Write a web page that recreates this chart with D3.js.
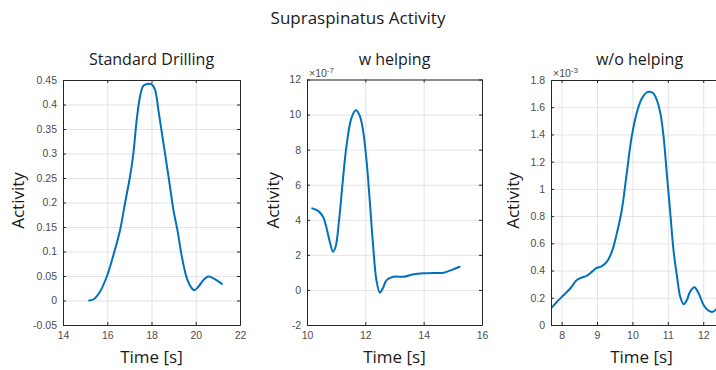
<!DOCTYPE html>
<html lang="en">
<head>
<meta charset="UTF-8">
<title>Supraspinatus Activity</title>
<script src="https://d3js.org/d3.v7.min.js"></script>
<style>
    body { margin: 0; background: #fff; }
    svg { display: block; }
    .tick text { font-family: 'Liberation Sans', Arial, sans-serif; font-size: 10.5px; fill: #4d4d4d; }
    .grid line { stroke: #e3e3e3; stroke-width: 1; }
    .grid path { stroke: none; }
    .lbl { font-family: 'Open Sans', 'Noto Sans', sans-serif; fill: #1a1a1a; }
</style>
</head>
<body>
<div id="chart"></div>
<script>
    // Standard Drilling
    const drillTime = [15.18, 15.37, 15.67, 15.98, 16.28, 16.58, 16.8, 17.03, 17.18, 17.33, 17.48, 17.63, 17.81, 18.01, 18.16, 18.31, 18.54, 18.77, 18.99, 19.17, 19.37, 19.6, 19.82, 19.94, 20.12, 20.35, 20.58, 20.8, 21.18];
    const drillAct  = [0, 0.002, 0.018, 0.049, 0.093, 0.144, 0.198, 0.253, 0.3, 0.368, 0.416, 0.438, 0.442, 0.441, 0.43, 0.389, 0.321, 0.253, 0.185, 0.144, 0.09, 0.045, 0.025, 0.021, 0.028, 0.042, 0.049, 0.045, 0.034];

    // w helping (x 1e-7)
    const helpTime = [10.18, 10.38, 10.55, 10.66, 10.78, 10.89, 10.98, 11.1, 11.23, 11.35, 11.52, 11.67, 11.8, 11.92, 12.04, 12.15, 12.27, 12.38, 12.5, 12.6, 12.73, 12.96, 13.31, 13.65, 13.99, 14.33, 14.66, 14.95, 15.23];
    const helpAct  = [4.65, 4.51, 4.17, 3.6, 2.75, 2.18, 2.46, 3.98, 6.26, 8.16, 9.78, 10.25, 9.97, 9.11, 7.4, 5.12, 2.46, 0.56, -0.16, 0.09, 0.56, 0.75, 0.75, 0.89, 0.95, 0.97, 0.97, 1.13, 1.32];

    // w/o helping (x 1e-3)
    const noHelpTime = [7.7, 7.87, 8.06, 8.25, 8.43, 8.58, 8.72, 8.86, 8.98, 9.14, 9.28, 9.42, 9.56, 9.7, 9.84, 9.98, 10.13, 10.27, 10.41, 10.5, 10.6, 10.69, 10.79, 10.88, 10.97, 11.07, 11.16, 11.26, 11.35, 11.45, 11.54, 11.63, 11.75, 11.87, 12.01, 12.15, 12.27, 12.4, 12.55];
    const noHelpAct  = [0.122, 0.171, 0.22, 0.27, 0.33, 0.35, 0.362, 0.392, 0.417, 0.433, 0.465, 0.539, 0.674, 0.845, 1.115, 1.384, 1.567, 1.666, 1.71, 1.714, 1.7, 1.653, 1.555, 1.384, 1.115, 0.82, 0.551, 0.355, 0.208, 0.152, 0.184, 0.245, 0.277, 0.233, 0.147, 0.105, 0.097, 0.125, 0.17];

    const drillXTicks = [14, 16, 18, 20, 22];
    const drillYTicks = [-0.05, 0, 0.05, 0.1, 0.15, 0.2, 0.25, 0.3, 0.35, 0.4, 0.45];
    const helpXTicks = [10, 12, 14, 16];
    const helpYTicks = [-2, 0, 2, 4, 6, 8, 10, 12];
    const noHelpXTicks = [8, 9, 10, 11, 12];
    const noHelpYTicks = [0, 0.2, 0.4, 0.6, 0.8, 1, 1.2, 1.4, 1.6, 1.8];

    const W = 716, H = 370;
    const svg = d3.select("#chart").append("svg").attr("width", W).attr("height", H);

    svg.append("text").attr("class", "lbl")
        .attr("x", 358).attr("y", 24).attr("text-anchor", "middle")
        .attr("font-size", 17).text("Supraspinatus Activity");

    const plain = d => String(+d.toFixed(2));

    const panels = [
        { title: "Standard Drilling", t: drillTime, a: drillAct, xd: [14, 22], yd: [-0.05, 0.45],
          xt: drillXTicks, yt: drillYTicks, left: 63, right: 240, top: 80, bottom: 325,
          ylab: 24, exp: null },
        { title: "w helping", t: helpTime, a: helpAct, xd: [10, 16], yd: [-2, 12],
          xt: helpXTicks, yt: helpYTicks, left: 307, right: 482, top: 79.5, bottom: 325,
          ylab: 279, exp: "-7" },
        { title: "w/o helping", t: noHelpTime, a: noHelpAct, xd: [7.7, 12.7], yd: [0, 1.8],
          xt: noHelpXTicks, yt: noHelpYTicks, left: 551, right: 728, top: 80, bottom: 325,
          ylab: 519, exp: "-3" }
    ];

    panels.forEach((p, i) => {
        const w = p.right - p.left, h = p.bottom - p.top;
        const x = d3.scaleLinear().domain(p.xd).range([0, w]);
        const y = d3.scaleLinear().domain(p.yd).range([h, 0]);
        const g = svg.append("g").attr("transform", `translate(${p.left},${p.top})`);

        // grid
        g.append("g").attr("class", "grid")
            .call(d3.axisLeft(y).tickValues(p.yt).tickSize(-w).tickFormat(""));
        g.append("g").attr("class", "grid").attr("transform", `translate(0,${h})`)
            .call(d3.axisBottom(x).tickValues(p.xt).tickSize(-h).tickFormat(""));

        // data line
        const clipId = "clip" + i;
        g.append("clipPath").attr("id", clipId)
            .append("rect").attr("width", w).attr("height", h);
        const pts = p.t.map((t, k) => [t, p.a[k]]);
        g.append("path").datum(pts)
            .attr("clip-path", `url(#${clipId})`)
            .attr("fill", "none").attr("stroke", "#0072BD").attr("stroke-width", 2)
            .attr("stroke-linejoin", "round").attr("stroke-linecap", "round")
            .attr("d", d3.line().x(d => x(d[0])).y(d => y(d[1])).curve(d3.curveCatmullRom.alpha(0.5)));

        // axes with inward ticks
        const styleAx = sel => {
            sel.select(".domain").attr("stroke", "#262626");
            sel.selectAll(".tick line").attr("stroke", "#262626");
        };
        g.append("g").call(d3.axisLeft(y).tickValues(p.yt).tickSizeInner(-3).tickSizeOuter(0)
            .tickPadding(6).tickFormat(plain)).call(styleAx);
        g.append("g").attr("transform", `translate(0,${h})`)
            .call(d3.axisBottom(x).tickValues(p.xt).tickSizeInner(-3).tickSizeOuter(0)
            .tickPadding(7).tickFormat(plain)).call(styleAx);
        g.append("g").attr("transform", `translate(${w},0)`)
            .call(d3.axisRight(y).tickValues(p.yt).tickSizeInner(-3).tickSizeOuter(0).tickFormat(""))
            .call(styleAx);
        g.append("g")
            .call(d3.axisTop(x).tickValues(p.xt).tickSizeInner(-3).tickSizeOuter(0).tickFormat(""))
            .call(styleAx);

        // exponent marker
        if (p.exp) {
            const ex = g.append("text").attr("x", 2).attr("y", -3)
                .attr("font-family", "'Liberation Sans', Arial, sans-serif")
                .attr("font-size", 10.5).attr("fill", "#4d4d4d");
            ex.append("tspan").text("\u00d710");
            ex.append("tspan").attr("dy", -4).attr("font-size", 8).text(p.exp);
        }

        // titles and labels
        svg.append("text").attr("class", "lbl")
            .attr("x", p.left + w / 2).attr("y", 65)
            .attr("text-anchor", "middle").attr("font-size", 16).text(p.title);
        svg.append("text").attr("class", "lbl")
            .attr("x", (p.left + Math.min(p.right, 716)) / 2 + (i === 2 ? 8 : 0)).attr("y", 363)
            .attr("text-anchor", "middle").attr("font-size", 17).text("Time [s]");
        svg.append("text").attr("class", "lbl")
            .attr("transform", `translate(${p.ylab},${p.top + h / 2 - 2}) rotate(-90)`)
            .attr("text-anchor", "middle").attr("font-size", 17).text("Activity");
    });
</script>
</body>
</html>
